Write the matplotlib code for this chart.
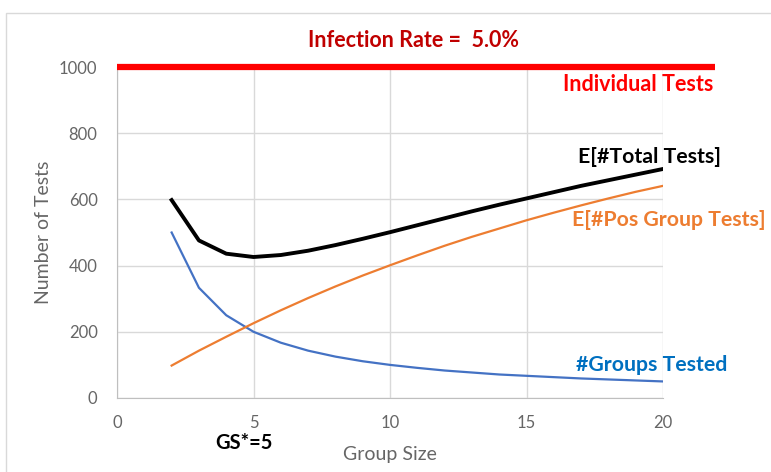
import numpy as np
import matplotlib.pyplot as plt
from matplotlib.patches import Rectangle

plt.rcParams['font.family'] = ['Lato', 'DejaVu Sans']

# 値はグラフから読み取り
group_size = [2, 3, 4, 5, 6, 7, 8, 9, 10, 11, 12, 13, 14, 15, 16, 17, 18, 19, 20]
groups_tested = [500, 333, 250, 200, 167, 143, 125, 111, 100, 91, 83, 77, 71, 67, 63, 59, 56, 53, 50]
pos_group_tests = [98, 143, 185, 226, 265, 302, 337, 370, 401, 431, 460, 487, 512, 537, 560, 582, 603, 623, 641]
total_tests = [598, 476, 436, 426, 432, 445, 462, 481, 501, 522, 543, 564, 584, 603, 622, 641, 658, 675, 692]
individual_x = [0, 21.9]
individual_y = [1000, 1000]

fig = plt.figure(figsize=(7.71, 4.72), dpi=100)
ax = fig.add_axes([0.1518, 0.1568, 0.7082, 0.7012])

gray = '#666666'
grid = '#d9d9d9'

ax.plot(group_size, groups_tested, color='#4472C4', lw=1.6, zorder=3)
ax.plot(group_size, pos_group_tests, color='#ED7D31', lw=1.6, zorder=3)
ax.plot(group_size, total_tests, color='black', lw=2.8, zorder=4)
ax.plot(individual_x, individual_y, color='#FF0000', lw=4.5, clip_on=False, zorder=5,
        solid_capstyle='butt')

ax.set_xlim(0, 20)
ax.set_ylim(0, 1000)
ax.set_xticks([0, 5, 10, 15, 20])
ax.set_yticks([0, 200, 400, 600, 800, 1000])
ax.grid(True, color=grid, lw=1)
ax.set_axisbelow(True)
for s in ['top', 'right']:
    ax.spines[s].set_visible(False)
for s in ['left', 'bottom']:
    ax.spines[s].set_color('#bfbfbf')
ax.tick_params(length=0, colors=gray, labelsize=12)
ax.tick_params(axis='y', pad=14)
ax.tick_params(axis='x', pad=12)

ax.set_xlabel('Group Size', color=gray, fontsize=14, labelpad=11)
ax.set_ylabel('Number of Tests', color=gray, fontsize=14, labelpad=5)

# 注釈テキスト
fig.text(0.536, 0.915, 'Infection Rate =  5.0%', color='#C00000', fontsize=15.5,
         fontweight='bold', ha='center', va='center')
fig.text(0.925, 0.82, 'Individual Tests', color='#FF0000', fontsize=15.5,
         fontweight='bold', ha='right', va='center')
fig.text(0.935, 0.668, 'E[#Total Tests]', color='black', fontsize=15.3,
         fontweight='bold', ha='right', va='center')
fig.text(0.993, 0.534, 'E[#Pos Group Tests]', color='#ED7D31', fontsize=15.3,
         fontweight='bold', ha='right', va='center')
fig.text(0.944, 0.227, '#Groups Tested', color='#0070C0', fontsize=15.3,
         fontweight='bold', ha='right', va='center')
fig.text(0.317, 0.062, 'GS*=5', color='black', fontsize=14.5,
         fontweight='bold', ha='center', va='center')

fig.patches.append(Rectangle((0.008, -0.01), 1.1, 0.983, transform=fig.transFigure,
                             fill=False, edgecolor='#d9d9d9', lw=1))

fig.savefig('out.png', dpi=100)
